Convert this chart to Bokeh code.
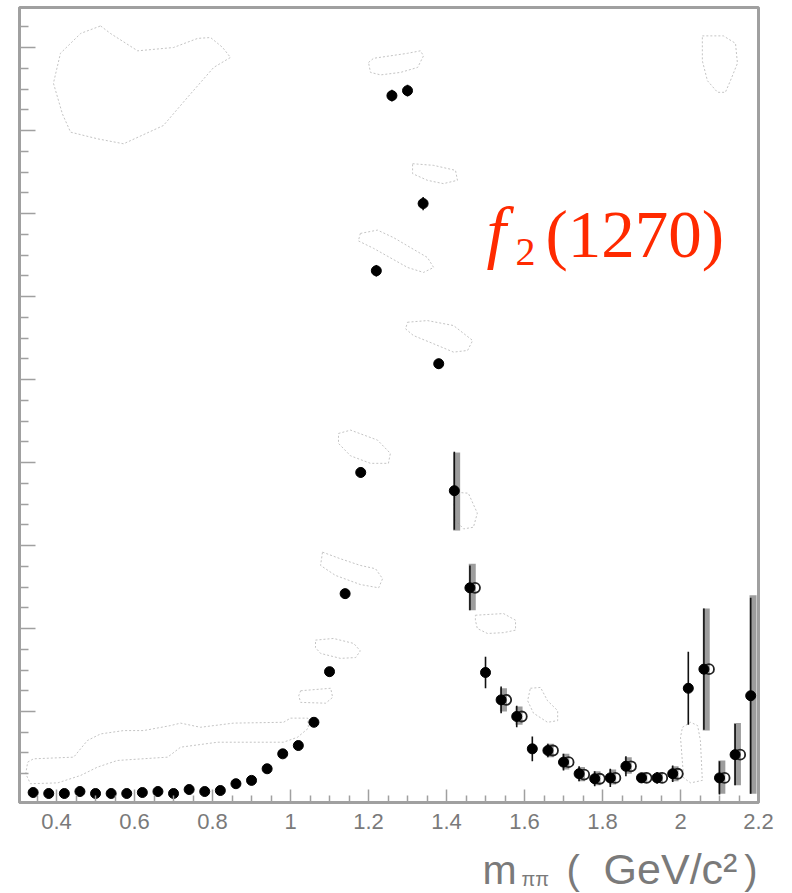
from bokeh.plotting import figure
from bokeh.layouts import column
from bokeh.models import Label, FixedTicker, Range1d, NumeralTickFormatter, CustomJSTickFormatter
from bokeh.embed import file_html
from bokeh.resources import INLINE
import numpy as np

# ---- data ----
mass = [0.34, 0.38, 0.42, 0.46, 0.50, 0.54, 0.58, 0.62, 0.66, 0.70,
        0.74, 0.78, 0.82, 0.86, 0.90, 0.94, 0.98, 1.02, 1.06, 1.10,
        1.14, 1.18, 1.22, 1.26, 1.30, 1.34, 1.38, 1.42, 1.46, 1.50,
        1.54, 1.58, 1.62, 1.66, 1.70, 1.74, 1.78, 1.82, 1.86, 1.90,
        1.94, 1.98, 2.02, 2.06, 2.10, 2.14, 2.18]
events = [2.4, 1.2, 1.2, 3.6, 1.2, 1.2, 1.2, 2.4, 3.6, 1.2,
          6, 3.6, 4.8, 13, 17, 31, 49, 59, 87, 148,
          242, 388, 631, 842, 848, 712, 519, 366, 249, 147,
          114, 94, 55, 53, 39, 25, 19, 20, 34, 20,
          20, 25, 128, 151, 20, 48, 119]
events_err = [1.5, 1.5, 1.5, 1.5, 1.5, 1.5, 1.5, 1.5, 1.5, 1.5,
              1.5, 1.5, 1.5, 2, 3, 3, 4, 4, 5, 5,
              6, 6, 7, 7, 7, 8, 6, 47, 27, 19,
              16, 13, 15, 8, 10, 9, 9, 11, 12, 6,
              7, 10, 44, 73, 20, 37, 118]

# second (open-circle) solution
mass_alt = [1.46, 1.54, 1.58, 1.66, 1.70, 1.74, 1.78, 1.82, 1.86, 1.90,
            1.94, 1.98, 2.06, 2.10, 2.14]
events_alt = [249, 114, 94, 53, 39, 24, 19, 20, 34, 20,
              20, 25, 151, 20, 48]

# total-uncertainty bands (grey)
band_mass = [1.42, 1.46, 1.54, 1.58, 1.66, 1.70, 1.74, 1.78, 1.82, 1.86,
             1.90, 1.94, 1.98, 2.06, 2.10, 2.14, 2.18]
band_low = [318, 222, 100, 84, 45, 30, 16, 11, 12, 25,
            14, 14, 16, 77, 1, 11, 1]
band_high = [412, 278, 128, 106, 61, 49, 33, 28, 30, 45,
             27, 27, 34, 224, 41, 86, 240]

# faint dotted contours (mass, events)
contour_mass = [
    [0.513, 0.538, 0.608, 0.700, 0.762, 0.795, 0.826, 0.846, 0.803, 0.736, 0.674, 0.572, 0.505, 0.436, 0.415, 0.392, 0.410, 0.462],
    [1.200, 1.213, 1.300, 1.333, 1.341, 1.326, 1.282, 1.231, 1.205],
    [1.313, 1.367, 1.423, 1.428, 1.392, 1.351, 1.313],
    [1.179, 1.223, 1.264, 1.351, 1.367, 1.341, 1.300, 1.213, 1.174],
    [1.300, 1.351, 1.418, 1.467, 1.454, 1.418, 1.367, 1.315, 1.295],
    [1.123, 1.154, 1.223, 1.256, 1.251, 1.205, 1.154, 1.123],
    [1.428, 1.456, 1.479, 1.469, 1.444, 1.423, 1.418],
    [1.082, 1.128, 1.179, 1.218, 1.236, 1.226, 1.179, 1.115, 1.077],
    [1.474, 1.546, 1.577, 1.577, 1.546, 1.505, 1.479, 1.474],
    [1.064, 1.110, 1.162, 1.179, 1.167, 1.128, 1.077, 1.064],
    [1.026, 1.103, 1.108, 1.090, 1.026, 1.021],
    [0.326, 0.341, 0.444, 0.479, 0.513, 0.572, 0.623, 0.692, 0.718, 0.769, 0.854, 0.982, 1.000,
     1.044, 1.046, 1.018, 0.982, 0.813, 0.718, 0.685, 0.556, 0.505, 0.462, 0.403, 0.333, 0.321],
    [1.615, 1.641, 1.659, 1.685, 1.685, 1.659, 1.623, 1.608],
    [2.005, 2.026, 2.044, 2.051, 2.056, 2.026, 2.008, 2.000],
    [2.056, 2.110, 2.141, 2.146, 2.128, 2.115, 2.095, 2.069, 2.056],
]
contour_events = [
    [926, 917, 896, 900, 911, 912, 900, 888, 876, 840, 806, 784, 790, 798, 820, 857, 893, 917],
    [882, 887, 893, 896, 890, 876, 870, 867, 870],
    [760, 758, 752, 740, 736, 740, 748],
    [676, 680, 671, 647, 635, 629, 635, 658, 667],
    [569, 571, 565, 547, 535, 533, 543, 553, 561],
    [435, 439, 427, 411, 399, 399, 408, 423],
    [364, 363, 339, 322, 320, 330, 351],
    [292, 284, 276, 272, 260, 249, 253, 264, 276],
    [216, 218, 210, 198, 195, 194, 200, 210],
    [186, 188, 182, 173, 165, 164, 170, 177],
    [125, 128, 117, 110, 111, 119],
    [39, 43, 45, 65, 73, 77, 77, 83, 86, 81, 86, 87, 92,
     92, 80, 69, 63, 63, 57, 45, 41, 33, 23, 14, 13, 25],
    [128, 129, 113, 101, 89, 87, 98, 113],
    [81, 87, 83, 65, 17, 14, 20, 69],
    [914, 914, 905, 881, 860, 846, 846, 860, 884],
]

xticks = [0.4, 0.6, 0.8, 1.0, 1.2, 1.4, 1.6, 1.8, 2.0, 2.2]
yticks = [100, 200, 300, 400, 500, 600, 700, 800, 900]

W = 792
LEFT, RIGHT, TOP = 19, 34, 7
FRAME_H = 795
H1 = 840
H2 = 53

# ---- main figure ----
p = figure(width=W, height=H1, output_backend="svg", toolbar_location=None,
           x_range=Range1d(0.305, 2.2), y_range=Range1d(-9.64, 948.2),
           min_border_left=LEFT, min_border_right=RIGHT, min_border_top=TOP,
           min_border_bottom=H1 - TOP - FRAME_H)
p.background_fill_color = "white"
p.border_fill_color = "white"
p.grid.visible = False
p.outline_line_color = "#a0a0a0"
p.outline_line_width = 3

frame_grey = "#a0a0a0"
p.xaxis.ticker = FixedTicker(
    ticks=xticks,
    minor_ticks=[t for t in np.round(np.arange(0.35, 2.2, 0.05), 2) if round(t / 0.2, 3) % 1 != 0])
p.xaxis.formatter = NumeralTickFormatter(format="0.[0]")
p.xaxis.axis_line_color = frame_grey
p.xaxis.axis_line_width = 3
p.xaxis.major_tick_in = 13
p.xaxis.major_tick_out = 0
p.xaxis.minor_tick_in = 7
p.xaxis.minor_tick_out = 0
p.xaxis.major_tick_line_color = frame_grey
p.xaxis.minor_tick_line_color = frame_grey
p.xaxis.major_tick_line_width = 1.5
p.xaxis.minor_tick_line_width = 1.5
p.xaxis.major_label_text_font = "Liberation Sans"
p.xaxis.major_label_text_font_size = "22px"
p.xaxis.major_label_text_color = "#7a7a7a"
p.xaxis.major_label_standoff = 11

p.yaxis.ticker = FixedTicker(
    ticks=yticks,
    minor_ticks=[t for t in range(0, 950, 25) if t % 100 != 0])
p.yaxis.formatter = CustomJSTickFormatter(code="return ''")
p.yaxis.axis_line_color = frame_grey
p.yaxis.axis_line_width = 3
p.yaxis.major_tick_in = 16
p.yaxis.major_tick_out = 0
p.yaxis.minor_tick_in = 9
p.yaxis.minor_tick_out = 0
p.yaxis.major_tick_line_color = frame_grey
p.yaxis.minor_tick_line_color = frame_grey
p.yaxis.major_tick_line_width = 1.5
p.yaxis.minor_tick_line_width = 1.5
p.yaxis.major_label_standoff = 0

# ---- marks ----
p.patches(xs=contour_mass, ys=contour_events, fill_color=None,
          line_color="#c4c4c4", line_width=1, line_dash="2 2")

m = np.array(mass)
e = np.array(events)
de = np.array(events_err)
ma = np.array(mass_alt)
ea = np.array(events_alt)
bm = np.array(band_mass)

p.segment(x0=bm + 0.006, y0=band_low, x1=bm + 0.006, y1=band_high,
          line_color="#8c8c8c", line_width=7, line_alpha=0.85)
p.segment(x0=m, y0=e - de, x1=m, y1=e + de, line_color="#111111", line_width=1.6)
p.scatter(ma + 0.013, ea, size=10, marker="circle", fill_color=None,
          line_color="#222222", line_width=1.8)
p.scatter(m, e, size=10, marker="circle", fill_color="black", line_color="black")

# ---- texts ----
def X(px):
    return 1 + (px - 290) / 390.0

def Y(py):
    return (794 - py) / 0.83

red = "#ff2a00"
p.add_layout(Label(x=X(486), y=Y(231), text="f", text_font="Liberation Serif",
                   text_font_style="italic", text_font_size="70px", text_color=red,
                   text_baseline="alphabetic"))
p.add_layout(Label(x=X(515), y=Y(251), text="2", text_font="Liberation Serif",
                   text_font_size="40px", text_color=red, text_baseline="alphabetic"))
p.add_layout(Label(x=X(545), y=Y(233), text="(1270)", text_font="Liberation Serif",
                   text_font_size="67px", text_color=red, text_baseline="alphabetic"))

# ---- x-axis title strip ----
p2 = figure(width=W, height=H2, output_backend="svg", toolbar_location=None,
            x_range=p.x_range, y_range=Range1d(0, H2),
            x_axis_location=None, y_axis_location=None,
            min_border_left=LEFT, min_border_right=RIGHT, min_border_top=0,
            min_border_bottom=0)
p2.grid.visible = False
p2.outline_line_color = None
p2.background_fill_color = "white"
p2.border_fill_color = "white"

def Y2(py):
    return (H1 + H2) - py

grey_txt = "#7a7a7a"
p2.add_layout(Label(x=X(482), y=Y2(869), text="m", text_font="Liberation Sans",
                    text_font_size="41px", text_color=grey_txt, text_baseline="alphabetic"))
p2.add_layout(Label(x=X(521), y=Y2(878), text="ππ", text_font="Liberation Sans",
                    text_font_size="20px", text_color=grey_txt, text_baseline="alphabetic"))
p2.add_layout(Label(x=X(566), y=Y2(869), text="(", text_font="Liberation Sans",
                    text_font_size="40px", text_color=grey_txt, text_baseline="alphabetic"))
p2.add_layout(Label(x=X(670), y=Y2(868), text="GeV/c²", text_font="Liberation Sans",
                    text_font_size="43px", text_color=grey_txt, text_baseline="alphabetic",
                    text_align="center"))
p2.add_layout(Label(x=X(757), y=Y2(869), text=")", text_font="Liberation Sans",
                    text_font_size="40px", text_color=grey_txt, text_baseline="alphabetic",
                    text_align="right"))

open("out.html", "w").write(file_html(column(p, p2), INLINE))
